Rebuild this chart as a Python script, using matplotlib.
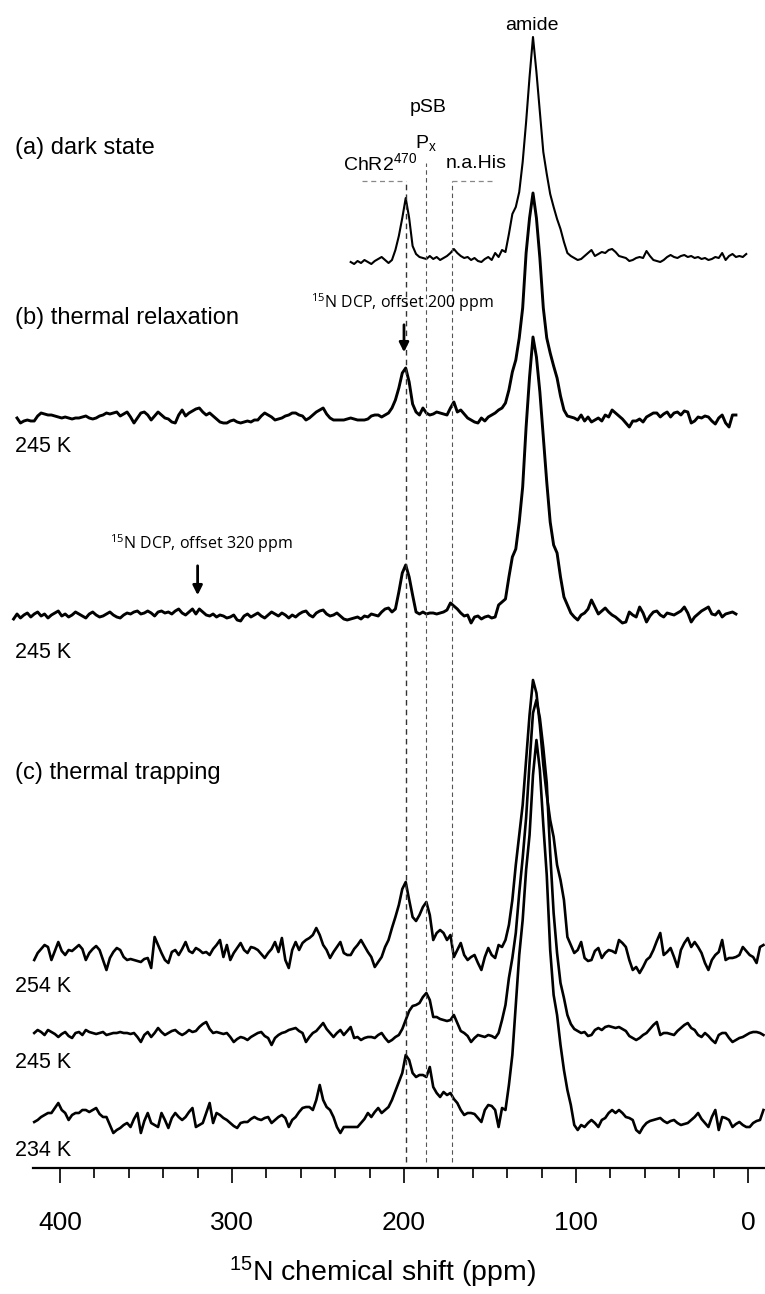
import matplotlib
matplotlib.use("Agg")
import matplotlib.pyplot as plt
import numpy as np
from matplotlib import font_manager

# spectra sampled every 2 ppm, first point at the given ppm (heights in px above baseline)
step = 2
a_start = 231
a_dark = [0, -2, 1, -1, 2, 0, -2, 1, 3, 5, 2, -1, 2, 12, 26, 44, 64, 44, 16, 8,
          5, 4, 3, 6, 3, 5, 2, 4, 6, 9, 13, 9, 6, 4, 5, 2, 4, 1, 0, 3,
          5, 2, 9, 5, 12, 10, 28, 48, 55, 70, 100, 140, 185, 225, 190, 150, 110, 88, 68, 55,
          43, 33, 20, 9, 6, 4, 2, 3, 6, 9, 12, 6, 8, 10, 9, 12, 13, 10, 6, 5,
          4, 1, 2, 4, 5, 4, 11, 6, 2, 1, 0, 2, 5, 7, 5, 4, 6, 7, 5, 6,
          4, 5, 3, 4, 2, 3, 5, 4, 9, 2, 6, 8, 5, 6, 5, 8]

b1_start = 425
b1_245 = [0, -5, -3, -2, -3, -3, 2, 5, 4, 3, 3, 2, 1, 0, 1, 0, -1, 0, 0, 1,
          2, 0, -1, 0, 2, 3, 5, 4, 5, 6, 2, 4, 6, 1, -5, 0, 5, 6, 3, -2,
          2, 6, 3, 0, -1, -4, -5, 3, 8, 2, 5, 7, 9, 10, 6, 3, 5, 2, -1, -4,
          -5, -5, -3, -2, -4, -5, -4, -3, -4, -2, -2, 2, 5, 3, 1, -2, -1, 0, 2, 3,
          5, 5, 3, 2, -2, 0, 3, 6, 8, 10, 4, 0, -2, -2, -2, -2, -1, 0, -1, -2,
          -2, -2, -1, 2, 3, 3, 1, 3, 5, 10, 18, 30, 45, 50, 36, 14, 6, 3, 10, 5,
          3, 4, 6, 5, 4, 3, 10, 16, 6, 8, 4, 0, -2, -4, -5, 0, -3, 1, 3, 5,
          8, 10, 15, 28, 46, 58, 80, 110, 165, 200, 225, 200, 160, 110, 80, 65, 52, 40, 22, 8,
          2, 1, 0, -2, 3, -3, 1, -4, -2, 0, -3, 3, 1, 8, 5, 2, -1, -5, -9, -3,
          -3, -1, -4, 1, 3, 5, 5, 1, 4, 6, 1, 5, 6, 3, 7, 6, -5, -3, 1, 0,
          2, 1, -3, -6, 0, 3, -5, -9, 3, 3]

b2_start = 427
b2_245 = [-2, 3, -1, 2, 4, 0, 3, 5, 1, 3, -1, 2, 4, 6, 1, 3, 0, 2, 5, 3,
          1, -1, 3, 5, 2, 0, 1, 3, 5, 2, 0, -1, 2, 4, 3, 5, 6, 3, 4, 6,
          4, 1, 5, 6, 4, 5, 3, 6, 8, 4, 2, 5, 8, 3, 8, 5, 2, 1, 3, 0,
          2, 1, -1, 0, 2, -3, -4, 1, 3, 0, 2, 4, 1, -1, 2, 5, 3, 1, 4, 2,
          -1, 2, 0, 3, 5, 6, 2, 0, 4, 6, 7, 3, 1, 2, 4, 1, -2, -3, -2, -1,
          0, -2, 1, 0, 3, 2, 1, 5, 8, 9, 5, 8, 25, 44, 52, 40, 22, 5, 3, 5,
          3, 4, 4, 3, 4, 5, 7, 14, 11, 8, 4, 1, 2, -6, 0, 1, -2, 0, 1, -1,
          0, 12, 15, 18, 40, 60, 68, 95, 130, 190, 240, 280, 260, 225, 180, 135, 95, 72, 64, 40,
          20, 12, 4, 0, -3, 2, 4, 8, 17, 10, 3, 6, 9, 5, 2, 0, -3, -6, -5, 5,
          2, 0, 10, 4, -5, 1, 5, 6, 2, 0, 4, 3, 2, 4, 6, 10, 4, -5, 0, 3,
          6, 8, 10, 3, 2, 6, 0, 3, 4, 5, 3]

c_start = 415
c_254 = [-5, 2, 6, 10, 8, -5, 4, 13, 4, 0, 5, 4, 7, 10, 6, -5, 2, 6, 9, 5,
         -5, -15, -3, 3, 7, 5, -2, -5, -4, -5, -6, -7, -4, -3, -13, 18, 10, 2, -5, -8,
         3, 5, 0, 6, 13, 4, 2, 7, 5, 2, 3, 0, 6, 10, 15, -2, 10, -5, 2, 7,
         12, 5, 2, 8, 7, 5, 1, -3, 2, 6, 13, 3, 17, -5, -13, 5, 13, 5, 12, 15,
         17, 20, 27, 20, 10, 5, -3, 3, 8, 13, 2, 0, 0, 6, 10, 15, 9, 3, -2, -12,
         -7, -2, 8, 15, 27, 38, 50, 66, 73, 55, 38, 34, 40, 48, 53, 40, 15, 22, 25, 22,
         15, 20, -2, 5, 12, 0, -5, -2, 0, -8, -15, -2, 7, 0, -3, 10, 8, 15, 30, 55,
         90, 120, 150, 195, 240, 275, 262, 230, 190, 160, 135, 118, 90, 75, 55, 18, 10, 2, 5, 13,
         -3, -6, -5, 4, 7, -3, 2, 5, 4, 2, 15, 12, 8, -5, -15, -12, -18, -12, -5, -2,
         5, 14, 22, 0, 3, 7, -2, -12, 5, 12, 17, 8, 13, 8, 2, -8, -15, -5, 0, 3,
         15, -5, -3, -3, -2, 0, 8, 4, 0, -2, -8, 8, 10]
c_245 = [0, 3, 1, -2, 3, 1, -1, -4, -1, 1, -3, -5, 0, 1, -2, 3, 1, 0, -1, 0,
         1, -2, -1, 0, 0, 1, 0, 0, -1, 0, -4, -9, -2, 1, -4, 0, 5, 1, -2, 0,
         2, 3, 0, -2, 0, 3, 1, 2, 6, 9, 11, 4, 0, 1, 0, -1, 0, -4, -9, -6,
         -4, -5, -7, -4, -2, 0, 1, -3, -5, -12, -5, -2, 0, 1, 3, 4, 5, 2, 0, -9,
         -4, 0, 2, 6, 10, 4, 0, -4, 0, 3, -2, 2, 6, -5, -4, -7, -5, -4, -4, -5,
         -2, 0, -5, -9, -7, -4, -2, 4, 13, 22, 27, 28, 30, 36, 40, 33, 16, 16, 14, 13,
         12, 13, 18, 10, 2, 0, -3, -9, -5, -2, -3, -4, -2, -3, -5, 0, 13, 28, 55, 75,
         100, 140, 175, 215, 270, 320, 333, 315, 285, 250, 180, 120, 80, 50, 35, 18, 9, 4, 2, 0,
         1, -3, -2, 3, 5, 3, 6, 7, 6, 5, 6, 4, 2, -3, -5, -7, -5, -2, 0, 4,
         8, 11, -2, 0, 0, -1, -2, 2, 5, 8, 10, 5, 3, -2, -4, 0, -3, -7, -10, -2,
         0, 0, -5, -9, -7, -5, -4, -2, 0, 1, 1, 0, -2]
c_234 = [-7, -5, -2, 0, 2, 2, 7, 12, 5, 2, -5, 0, 2, 2, 5, 5, 3, 5, 7, 1,
         -2, -2, -10, -18, -15, -13, -10, -8, -12, -4, 2, -18, -6, 2, -8, -10, -12, 2, -5, -13,
         -3, 2, -2, -5, -2, 3, 7, -12, -10, -8, 2, 12, -8, 2, 0, -3, -5, -8, -11, -13,
         -8, -7, -7, -4, -2, -4, -5, -3, -2, -8, -5, -2, 0, -3, -12, -5, -2, 3, 7, 8,
         8, 5, 15, 30, 15, 8, 5, -2, -12, -18, -12, -12, -12, -12, -12, -8, -4, 2, -2, 3,
         7, 2, 5, 8, 15, 24, 33, 42, 60, 55, 42, 38, 40, 40, 38, 48, 28, 22, 18, 23,
         20, 22, 16, 12, 5, 0, 2, 2, 1, -3, -7, 5, 10, 9, 5, -12, 7, 5, 30, 60,
         110, 160, 195, 245, 280, 340, 375, 345, 290, 240, 165, 120, 100, 70, 45, 25, 10, -10, -15, -10,
         -12, -8, -5, -8, -12, -5, -3, 2, 5, 2, 5, 2, -2, -3, -5, -15, -18, -12, -8, -6,
         -5, -4, -3, -6, -8, -6, -5, -8, -10, -9, -8, -5, -2, 2, -4, -8, -12, -2, 5, -15,
         -2, -3, -5, -12, -9, -7, -10, -12, -12, -8, -6, -5, 5]

temps_c = ["254 K", "245 K", "234 K"]
tick_vals = [400, 300, 200, 100, 0]

names = {f.name for f in font_manager.fontManager.ttflist}
narrow = "Liberation Sans Narrow" if "Liberation Sans Narrow" in names else "Liberation Sans"
big = 22 if narrow == "Liberation Sans Narrow" else 19

plt.rcParams["font.family"] = ["Liberation Sans", "DejaVu Sans"]
plt.rcParams["mathtext.default"] = "regular"

fig = plt.figure(figsize=(7.65, 12.94), dpi=100)
ax = fig.add_axes([0, 126 / 1294, 1, 1168 / 1294])
ax.set_xlim(434.9, -9.9)
ax.set_ylim(0, 1168)


def ppm_axis(start, vals):
    return start - step * np.arange(len(vals))


ax.plot(ppm_axis(a_start, a_dark), 906 + np.array(a_dark), color="k", lw=1.5)
ax.plot(ppm_axis(b1_start, b1_245), 750 + np.array(b1_245), color="k", lw=2.1)
ax.plot(ppm_axis(b2_start, b2_245), 551 + np.array(b2_245), color="k", lw=2.1)
for vals, off in zip([c_254, c_245, c_234], [213, 135, 53]):
    ax.plot(ppm_axis(c_start, vals), off + np.array(vals), color="k", lw=1.9)

# guide lines
ax.plot([199, 199], [6, 987], color="#333333", lw=1.0, dashes=[4, 3])
ax.plot([187, 187], [6, 1005], color="#555555", lw=0.8, dashes=[4, 3])
ax.plot([172, 172], [6, 987], color="#555555", lw=0.8, dashes=[4, 3])
ax.plot([224.5, 199], [987, 987], color="#888888", lw=0.9, dashes=[4, 3])
ax.plot([172, 147], [987, 987], color="#888888", lw=0.9, dashes=[4, 3])

ax.text(125.5, 1143, "amide", ha="center", va="center", fontsize=14)
ax.text(186, 1061, "pSB", ha="center", va="center", fontsize=14)
ax.text(187.5, 1025, "P$_{x}$", ha="center", va="center", fontsize=14)
ax.text(214, 1005, "ChR2$^{470}$", ha="center", va="center", fontsize=14)
ax.text(158, 1005, "n.a.His", ha="center", va="center", fontsize=14)

ax.text(426, 1020, "(a) dark state", ha="left", va="center", fontsize=17)
ax.text(426, 850, "(b) thermal relaxation", ha="left", va="center", fontsize=17)
ax.text(426, 395, "(c) thermal trapping", ha="left", va="center", fontsize=17)
ax.text(426, 722, "245 K", ha="left", va="center", fontsize=15.5)
ax.text(426, 516, "245 K", ha="left", va="center", fontsize=15.5)
for t, y in zip(temps_c, [181, 106, 18]):
    ax.text(426, y, t, ha="left", va="center", fontsize=15.5)

dcp_font = ["Open Sans", "DejaVu Sans"]
ax.text(201, 865, "$^{15}$N DCP, offset 200 ppm", ha="center", va="center",
        fontsize=11.5, family=dcp_font)
ax.annotate("", xy=(200, 813), xytext=(200, 846),
            arrowprops=dict(arrowstyle="-|>", color="k", lw=2, mutation_scale=14))
ax.text(318, 624, "$^{15}$N DCP, offset 320 ppm", ha="center", va="center",
        fontsize=11.5, family=dcp_font)
ax.annotate("", xy=(320, 570), xytext=(320, 605),
            arrowprops=dict(arrowstyle="-|>", color="k", lw=2, mutation_scale=14))

for s in ["left", "right", "top"]:
    ax.spines[s].set_visible(False)
ax.spines["bottom"].set_bounds(415.7, -9.9)
ax.spines["bottom"].set_linewidth(1.6)
ax.set_yticks([])
ax.set_xticks(tick_vals)
ax.set_xticks(np.arange(400, -1, -20), minor=True)
ax.tick_params(axis="x", which="major", direction="out", length=11, width=1.2, pad=20)
ax.tick_params(axis="x", which="minor", direction="out", length=7, width=1.2)
for lab in ax.get_xticklabels():
    lab.set_family(narrow)
    lab.set_fontsize(big)
ax.set_xlabel("$^{15}$N chemical shift (ppm)", family=narrow, fontsize=big + 1.5, labelpad=14)

fig.savefig("out.png", dpi=100)
